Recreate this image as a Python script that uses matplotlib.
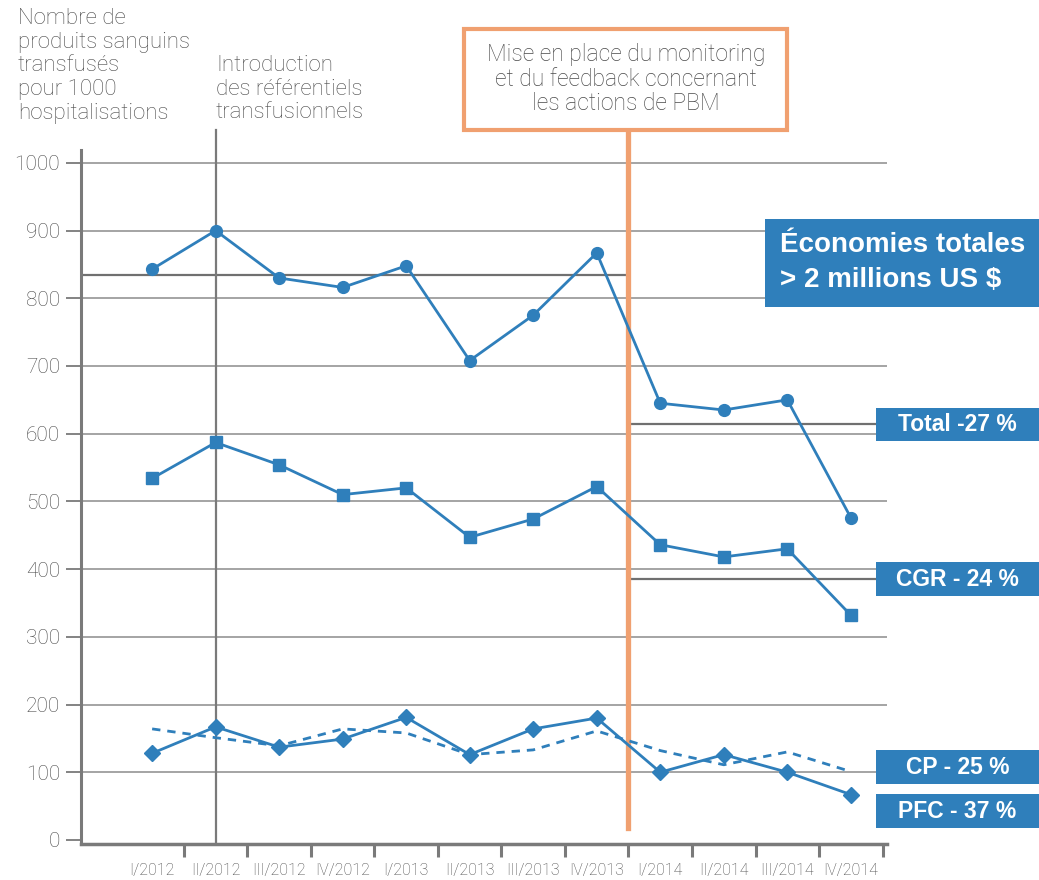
import matplotlib
matplotlib.use("Agg")
import matplotlib.pyplot as plt
from matplotlib.patches import Rectangle

# ---------------- data ----------------
quarters = ["I/2012", "II/2012", "III/2012", "IV/2012", "I/2013", "II/2013",
            "III/2013", "IV/2013", "I/2014", "II/2014", "III/2014", "IV/2014"]
total = [843, 900, 830, 816, 848, 708, 775, 867, 645, 635, 650, 476]
cgr = [534, 587, 554, 510, 520, 447, 474, 522, 436, 418, 430, 332]
pfc = [128, 167, 137, 149, 181, 126, 164, 180, 100, 126, 100, 67]
cp = [164, 151, 139, 164, 158, 126, 133, 161, 132, 111, 130, 101]
total_mean_before = 834
total_mean_after = 614
cgr_mean_after = 386
yticks = [0, 100, 200, 300, 400, 500, 600, 700, 800, 900, 1000]
intervention_pos = 7.5   # between IV/2013 and I/2014
referentiels_pos = 1     # II/2012

BLUE = "#2f7fbb"
ORANGE = "#f0a070"
GRAY = "#7a7a7a"
TXT = "#4a4a4a"
LIGHT = dict(family=['Roboto', 'DejaVu Sans'], fontweight='light')

plt.rcParams['font.family'] = ['Liberation Sans', 'DejaVu Sans']

W, H = 1039, 880
fig = plt.figure(figsize=(W / 100, H / 100), dpi=100)
ax = fig.add_axes([81 / W, 1 - 844 / H, (887 - 81) / W, (844 - 150) / H])

x = list(range(len(quarters)))
ax.set_xlim(-1.12, 11.57)
ax.set_ylim(-6, 1019)

# grid
for v in yticks[1:]:
    ax.axhline(v, color="#8c8c8c", lw=1.1, zorder=1)

# mean lines
ax.plot([-1.12, intervention_pos], [total_mean_before] * 2, color="#707070", lw=1.6, zorder=2)
ax.plot([intervention_pos + 0.05, 11.6], [total_mean_after] * 2, color="#707070", lw=1.6,
        zorder=2, clip_on=False)
ax.plot([intervention_pos + 0.05, 11.6], [cgr_mean_after] * 2, color="#707070", lw=1.6,
        zorder=2, clip_on=False)

# vertical markers
ax.plot([referentiels_pos] * 2, [-6, 1049], color=GRAY, lw=1.6, zorder=2, clip_on=False)
ax.plot([intervention_pos] * 2, [18, 1049], color=ORANGE, lw=3.8, zorder=4, clip_on=False)

# series
ax.plot(x, total, color=BLUE, lw=2, marker="o", ms=8.5, zorder=5)
ax.plot(x, cgr, color=BLUE, lw=2, marker="s", ms=8, zorder=5)
ax.plot(x, cp, color=BLUE, lw=2, ls=(0, (3, 2.5)), zorder=5)
ax.plot(x, pfc, color=BLUE, lw=2, marker="D", ms=8.5, zorder=5)

# spines
for s in ["top", "right"]:
    ax.spines[s].set_visible(False)
ax.spines["left"].set_color(GRAY)
ax.spines["left"].set_linewidth(2.2)
ax.spines["bottom"].set_color(GRAY)
ax.spines["bottom"].set_linewidth(2.5)

# y ticks
ax.set_yticks(yticks)
ax.set_yticklabels([str(v) for v in yticks], fontsize=15, color=TXT, **LIGHT)
ax.tick_params(axis="y", length=11, width=1.3, color=GRAY, pad=4)

# x ticks: marks between quarters, labels centered
ax.set_xticks([i + 0.5 for i in x])
ax.set_xticklabels([])
ax.tick_params(axis="x", which="major", length=9, width=2.2, color=GRAY)
ax.set_xticks(x, minor=True)
ax.set_xticklabels(quarters, minor=True, fontsize=11.5, color=TXT, **LIGHT)
ax.tick_params(axis="x", which="minor", length=0, pad=14)

# texts top-left
fig.text(18 / W, 1 - 8 / H,
         "Nombre de\nproduits sanguins\ntransfusés\npour 1000\nhospitalisations",
         ha="left", va="top", fontsize=16, color=TXT, linespacing=1.17, **LIGHT)
fig.text(216 / W, 1 - 55 / H, "Introduction\ndes référentiels\ntransfusionnels",
         ha="left", va="top", fontsize=16, color=TXT, linespacing=1.17, **LIGHT)

# orange box
fig.patches.append(Rectangle((464 / W, 1 - 130 / H), (787 - 464) / W, (130 - 29) / H,
                             transform=fig.transFigure, facecolor="white",
                             edgecolor=ORANGE, lw=3, zorder=6))
fig.text(626 / W, 1 - 79 / H,
         "Mise en place du monitoring\net du feedback concernant\nles actions de PBM",
         ha="center", va="center", fontsize=16.5, color=TXT, linespacing=1.08, zorder=7,
         **LIGHT)

# blue boxes
def blue_box(x0, y0, x1, y1, text, fs, ha="center", tx=None, ls=1.3):
    fig.patches.append(Rectangle((x0 / W, 1 - y1 / H), (x1 - x0) / W, (y1 - y0) / H,
                                 transform=fig.transFigure, facecolor=BLUE,
                                 edgecolor="none", zorder=6))
    cx = tx if tx is not None else (x0 + x1) / 2
    fig.text(cx / W, 1 - (y0 + y1) / 2 / H, text, ha=ha, va="center", fontsize=fs,
             color="white", fontweight="bold", zorder=7, linespacing=ls)

blue_box(765, 219, 1039, 307, "Économies totales\n> 2 millions US $", 20, ha="left",
         tx=780, ls=1.45)
blue_box(876, 408, 1039, 441, "Total -27 %", 16.5)
blue_box(876, 562, 1039, 596, "CGR - 24 %", 16.5)
blue_box(876, 750, 1039, 784, "CP - 25 %", 16.5)
blue_box(876, 794, 1039, 828, "PFC - 37 %", 16.5)

fig.savefig("out.png", dpi=100)
